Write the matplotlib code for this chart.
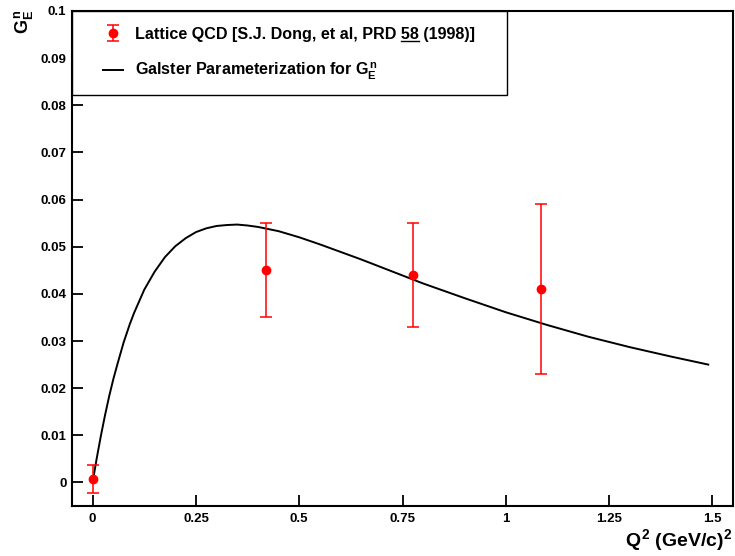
import matplotlib
matplotlib.use("Agg")
import matplotlib.pyplot as plt
from matplotlib.lines import Line2D
from matplotlib.patches import Rectangle

plt.rcParams['font.family'] = ['Liberation Sans', 'DejaVu Sans']
plt.rcParams['font.weight'] = 'bold'
plt.rcParams['mathtext.fontset'] = 'custom'
plt.rcParams['mathtext.rm'] = 'Liberation Sans:bold'
plt.rcParams['mathtext.it'] = 'Liberation Sans:bold'
plt.rcParams['mathtext.bf'] = 'Liberation Sans:bold'

# lattice QCD points
q2_lat = [0.0, 0.42, 0.775, 1.085]
gen_lat = [0.0008, 0.045, 0.044, 0.041]
err_lo = [0.003, 0.010, 0.011, 0.018]
err_hi = [0.003, 0.010, 0.011, 0.018]

# Galster curve
q2_gal = [0.0, 0.005, 0.01, 0.02, 0.03, 0.04, 0.05, 0.06, 0.075, 0.09, 0.1,
          0.125, 0.15, 0.175, 0.2, 0.225, 0.25, 0.275, 0.3, 0.325, 0.35,
          0.375, 0.4, 0.45, 0.5, 0.55, 0.6, 0.65, 0.7, 0.8, 0.9, 1.0, 1.1,
          1.2, 1.3, 1.4, 1.49]
gen_gal = [0.0, 0.00265, 0.00519, 0.00993, 0.01428, 0.0183, 0.0219, 0.0251,
           0.0297, 0.0336, 0.0359, 0.0409, 0.0447, 0.0478, 0.0501, 0.0518,
           0.0531, 0.0539, 0.0544, 0.0546, 0.0547, 0.0545, 0.0542, 0.0533,
           0.0520, 0.0505, 0.0489, 0.0473, 0.0456, 0.0422, 0.0391, 0.0361,
           0.0334, 0.0309, 0.0287, 0.0267, 0.0250]

xticks = [0, 0.25, 0.5, 0.75, 1, 1.25, 1.5]
xtick_labels = ['0', '0.25', '0.5', '0.75', '1', '1.25', '1.5']
yticks = [0, 0.01, 0.02, 0.03, 0.04, 0.05, 0.06, 0.07, 0.08, 0.09, 0.1]
ytick_labels = ['0', '0.01', '0.02', '0.03', '0.04', '0.05', '0.06', '0.07',
                '0.08', '0.09', '0.1']

lat_prefix = 'Lattice QCD [S.J. Dong, et al, PRD '
lat_vol = '58'
lat_label = lat_prefix + lat_vol + ' (1998)]'
gal_label = r'Galster Parameterization for $G_E^n$'

fig = plt.figure(figsize=(7.35, 5.56), dpi=100)
ax = fig.add_axes([72/735, 1 - 506/556, 661/735, 495/556])

h_lat = ax.errorbar(q2_lat, gen_lat, yerr=[err_lo, err_hi], fmt='o',
                    color='red', ms=6, elinewidth=1.1, capsize=4, capthick=1.1,
                    zorder=3)
h_gal, = ax.plot(q2_gal, gen_gal, color='black', lw=1.4, zorder=2)

ax.set_xlim(-0.05, 1.55)
ax.set_ylim(-0.005, 0.1)
ax.set_xticks(xticks)
ax.set_xticklabels(xtick_labels)
ax.set_yticks(yticks)
ax.set_yticklabels(ytick_labels)
ax.tick_params(axis='both', direction='in', length=8, width=1.3,
               labelsize=9.5, top=False, right=False)
ax.tick_params(axis='x', pad=5)
ax.tick_params(axis='y', pad=4)
for s in ax.spines.values():
    s.set_linewidth(1.5)

# legend box
box = Rectangle((0, (506 - 95) / 495), 435 / 661, 84 / 495,
                transform=ax.transAxes, facecolor='white',
                edgecolor='black', lw=1.0, zorder=4)
ax.add_patch(box)
leg = ax.legend([h_lat, h_gal], [lat_label, gal_label], loc='upper left',
                bbox_to_anchor=((103 - 72) / 661, (506 - 27) / 495),
                borderaxespad=0, borderpad=0, frameon=False, fontsize=11.6,
                handlelength=1.25, handletextpad=0.75, labelspacing=1.2)
leg.set_zorder(5)

fig.text(0.997, 0.017, r'$Q^2$ (GeV/c)$^2$', ha='right', va='baseline',
         fontsize=14)
fig.text(0.016, 0.982, r'$G_E^n$', rotation=90, ha='left', va='top',
         fontsize=13)

# underline the volume number in the legend
fig.canvas.draw()
rend = fig.canvas.get_renderer()
t = leg.get_texts()[0]
fp = t.get_fontproperties()
bb = t.get_window_extent(rend)
w_pre, _, _ = rend.get_text_width_height_descent(lat_prefix, fp, ismath=False)
w_vol, _, _ = rend.get_text_width_height_descent(lat_vol, fp, ismath=False)
_, _, desc = rend.get_text_width_height_descent(lat_label, fp, ismath=False)
y_ul = bb.y0 + desc - 1.5
inv = fig.transFigure.inverted()
p0 = inv.transform((bb.x0 + w_pre, y_ul))
p1 = inv.transform((bb.x0 + w_pre + w_vol, y_ul))
fig.add_artist(Line2D([p0[0], p1[0]], [p0[1], p1[1]], color='black', lw=1.0,
                      zorder=6))

fig.savefig('out.png', dpi=100)
